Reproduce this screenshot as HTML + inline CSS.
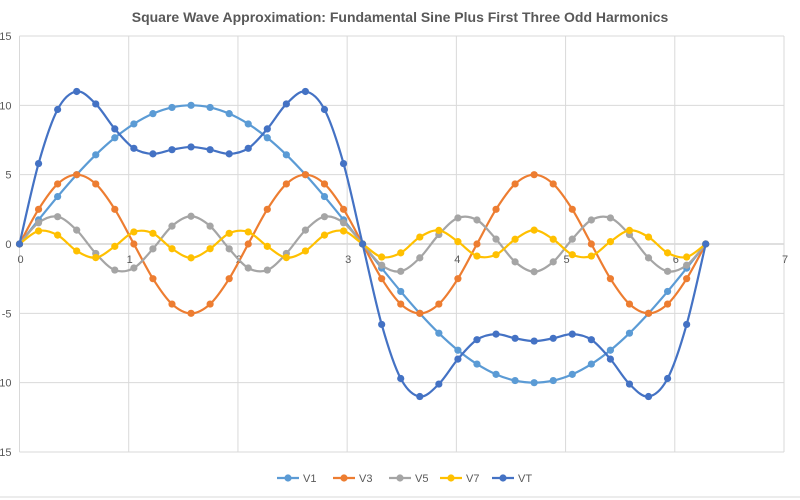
<!DOCTYPE html>
<html><head><meta charset="utf-8"><style>
body{margin:0;background:#fff;}
svg{display:block;font-family:"Liberation Sans",sans-serif;}
</style></head><body>
<svg id="chart" width="800" height="500" xmlns="http://www.w3.org/2000/svg">
<text x="400" y="22" text-anchor="middle" font-size="14" font-weight="bold" fill="#595959">Square Wave Approximation: Fundamental Sine  Plus First Three Odd Harmonics</text>
<g id="grid"></g><g id="series"></g><g id="legend"></g>
<line x1="0" y1="497" x2="800" y2="497" stroke="#d9d9d9"/>
</svg>
<script>
const xTicks=[0,1,2,3,4,5,6,7];
const yTicks=[-15,-10,-5,0,5,10,15];
const xStep=0.174533;
const v1=[0,1.74,3.42,5,6.43,7.66,8.66,9.4,9.85,10,9.85,9.4,8.66,7.66,6.43,5,3.42,1.74,0,-1.74,-3.42,-5,-6.43,-7.66,-8.66,-9.4,-9.85,-10,-9.85,-9.4,-8.66,-7.66,-6.43,-5,-3.42,-1.74,0];
const v3=[0,2.5,4.33,5,4.33,2.5,0,-2.5,-4.33,-5,-4.33,-2.5,0,2.5,4.33,5,4.33,2.5,0,-2.5,-4.33,-5,-4.33,-2.5,0,2.5,4.33,5,4.33,2.5,0,-2.5,-4.33,-5,-4.33,-2.5,0];
const v5=[0,1.53,1.97,1,-0.68,-1.88,-1.73,-0.35,1.29,2,1.29,-0.35,-1.73,-1.88,-0.68,1,1.97,1.53,0,-1.53,-1.97,-1,0.68,1.88,1.73,0.35,-1.29,-2,-1.29,0.35,1.73,1.88,0.68,-1,-1.97,-1.53,0];
const v7=[0,0.94,0.64,-0.5,-0.98,-0.17,0.87,0.77,-0.34,-1,-0.34,0.77,0.87,-0.17,-0.98,-0.5,0.64,0.94,0,-0.94,-0.64,0.5,0.98,0.17,-0.87,-0.77,0.34,1,0.34,-0.77,-0.87,0.17,0.98,0.5,-0.64,-0.94,0];
const vt=[0,5.8,9.7,11,10.1,8.3,6.9,6.5,6.8,7,6.8,6.5,6.9,8.3,10.1,11,9.7,5.8,0,-5.8,-9.7,-11,-10.1,-8.3,-6.9,-6.5,-6.8,-7,-6.8,-6.5,-6.9,-8.3,-10.1,-11,-9.7,-5.8,0];
const seriesNames=["V1","V3","V5","V7","VT"];
const seriesData=[v1,v3,v5,v7,vt];
const colors=["#5B9BD5","#ED7D31","#A5A5A5","#FFC000","#4472C4"];
const L=19.5,R=784,T=36,B=452;
const xs=v=>L+(v-0)/7*(R-L);
const ys=v=>T+(15-v)/30*(B-T);
const NS="http://www.w3.org/2000/svg";
function mk(tag,attrs,parent){const e=document.createElementNS(NS,tag);for(const k in attrs)e.setAttribute(k,attrs[k]);parent.appendChild(e);return e;}
const grid=document.getElementById('grid');
yTicks.forEach(t=>{
  const l=mk('line',{x1:L,x2:R,y1:ys(t),y2:ys(t),stroke:t===0?'#bfbfbf':'#d9d9d9'},grid);
  
  
  const tx=mk('text',{x:L-8,y:ys(t)+4,'text-anchor':'end','font-size':'11',fill:'#595959'},grid);
  tx.textContent=t<0?String(-t):String(t);
  if(t<0)tx.textContent="-"+(-t);
  
  
});
xTicks.forEach(t=>{
  const l=mk('line',{x1:xs(t),x2:xs(t),y1:T,y2:B,stroke:'#d9d9d9'},grid);
  
  
  const tx=mk('text',{x:xs(t)+1,y:ys(0)+19,'text-anchor':'middle','font-size':'11',fill:'#595959'},grid);
  tx.textContent=String(t);
  
  
});
const sg=document.getElementById('series');
function smooth(pts){
  let d=`M${pts[0][0]},${pts[0][1]}`;
  for(let i=0;i<pts.length-1;i++){
    const p0=pts[Math.max(i-1,0)],p1=pts[i],p2=pts[i+1],p3=pts[Math.min(i+2,pts.length-1)];
    const c1x=p1[0]+(p2[0]-p0[0])/6,c1y=p1[1]+(p2[1]-p0[1])/6;
    const c2x=p2[0]-(p3[0]-p1[0])/6,c2y=p2[1]-(p3[1]-p1[1])/6;
    d+=` C${c1x},${c1y} ${c2x},${c2y} ${p2[0]},${p2[1]}`;
  }
  return d;
}
seriesData.forEach((arr,si)=>{
  const g=mk('g',{},sg);
  
  
  const pts=arr.map((v,i)=>[xs(i*xStep),ys(v)]);
  const p=mk('path',{d:smooth(pts),fill:'none',stroke:colors[si],'stroke-width':'2.2'},g);
  
  
  pts.forEach(pt=>{
    const c=mk('circle',{cx:pt[0],cy:pt[1],r:3.6,fill:colors[si]},g);
    
    
  });
});
const lg=document.getElementById('legend');
const lx=[277,333,389,440,492];
seriesNames.forEach((n,i)=>{
  const g=mk('g',{},lg);
  
  
  mk('line',{x1:lx[i],x2:lx[i]+22,y1:478,y2:478,stroke:colors[i],'stroke-width':'2.2'},g);
  mk('circle',{cx:lx[i]+11,cy:478,r:3.6,fill:colors[i]},g);
  const t=mk('text',{x:lx[i]+26,y:482,'font-size':'11',fill:'#595959'},g);
  t.textContent=n;
});
</script>
</body></html>
